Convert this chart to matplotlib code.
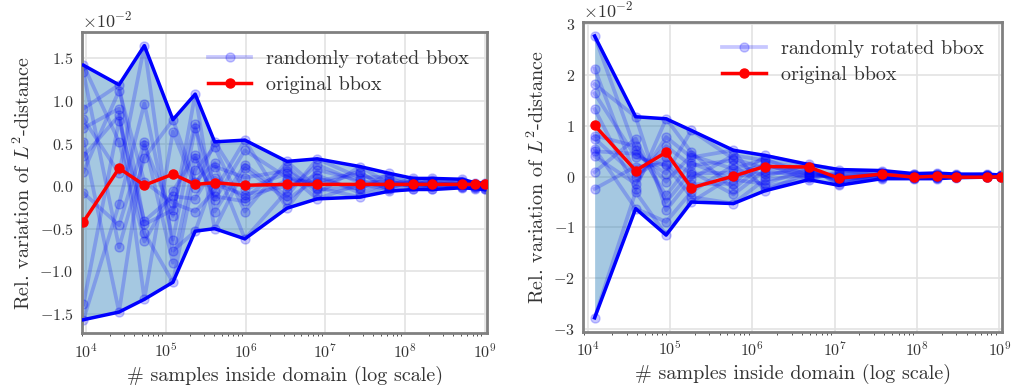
"""
Relative variation of the L2-distance vs. number of samples inside the domain
"""

import numpy as np
import matplotlib
matplotlib.use("Agg")
import matplotlib.pyplot as plt

plt.rcParams["font.family"] = "serif"
plt.rcParams["font.serif"] = ["cmr10"]
plt.rcParams["mathtext.fontset"] = "cm"
plt.rcParams["axes.formatter.use_mathtext"] = True
plt.rcParams["axes.unicode_minus"] = False
plt.rcParams["text.color"] = "0.2"
plt.rcParams["axes.labelcolor"] = "0.2"
plt.rcParams["xtick.color"] = "0.2"
plt.rcParams["ytick.color"] = "0.2"

# ---- left panel data (values in units of 1e-2) ----
x_left = [9.3e3, 2.6e4, 5.4e4, 1.23e5, 2.34e5, 4.1e5, 9.8e5, 3.3e6,
          7.9e6, 2.7e7, 6.3e7, 1.26e8, 2.2e8, 5.2e8, 7.4e8, 1.0e9]

orig_left = [-0.42, 0.21, 0.01, 0.14, 0.02, 0.04, 0.01, 0.02,
             0.02, 0.02, 0.02, 0.02, 0.02, 0.02, 0.02, 0.02]

rot_left = [
    [1.42, 0.52, -0.65, -0.06, 0.36, -0.16, 0.42, 0.10, 0.02, 0.15, -0.01, 0.04, 0.02, 0.08, -0.02, 0.01],
    [1.34, -0.72, 0.33, 0.78, 0.05, 0.27, -0.62, -0.06, 0.25, 0.04, 0.06, -0.01, 0.09, 0.01, 0.025, -0.04],
    [0.91, 1.19, -0.45, -0.28, 0.73, -0.50, 0.21, -0.16, 0.09, -0.04, 0.15, 0.01, 0.05, -0.01, 0.01, 0.03],
    [0.79, 0.15, 1.65, -0.76, -0.53, 0.10, -0.14, 0.23, -0.09, 0.23, 0.03, 0.05, -0.04, 0.04, -0.005, 0.0],
    [0.68, 0.91, -1.33, 0.64, -0.02, 0.52, -0.04, 0.15, -0.15, 0.02, -0.04, 0.03, 0.0, 0.06, 0.04, -0.02],
    [0.52, -1.48, 0.48, -0.35, 1.08, -0.30, 0.25, -0.12, 0.32, 0.10, 0.11, -0.04, 0.03, -0.005, 0.0, 0.005],
    [0.35, 0.83, -0.55, -1.13, 0.19, 0.46, -0.30, 0.29, -0.02, -0.13, 0.01, 0.09, -0.03, 0.02, 0.02, 0.02],
    [0.17, 1.12, 0.05, -0.20, -0.30, -0.06, 0.54, -0.26, 0.19, 0.07, -0.03, 0.07, 0.04, -0.02, -0.01, 0.035],
    [-0.08, -0.46, 0.52, -0.90, 0.33, -0.12, -0.18, 0.07, 0.05, 0.17, -0.06, -0.03, 0.01, 0.05, 0.015, -0.03],
    [-1.39, 0.77, -0.41, -0.12, -0.15, 0.23, 0.10, 0.18, -0.04, -0.02, 0.08, 0.02, 0.07, 0.0, -0.03, -0.01],
    [-1.57, -0.21, 0.97, -0.63, 0.68, 0.02, -0.10, 0.00, 0.13, -0.08, 0.04, 0.0, -0.01, 0.03, 0.03, 0.015],
]

# ---- right panel data (values in units of 1e-2) ----
x_right = [1.22e4, 3.84e4, 9.0e4, 1.82e5, 5.9e5, 1.41e6, 4.84e6,
           1.12e7, 3.75e7, 9.1e7, 1.74e8, 2.99e8, 7.0e8, 1.05e9]

orig_right = [1.01, 0.12, 0.48, -0.22, 0.01, 0.20, 0.19,
              -0.03, 0.05, -0.01, 0.01, -0.01, -0.01, 0.0]

rot_right = [
    [2.77, 0.52, -0.10, 0.42, 0.15, 0.35, 0.02, 0.02, 0.03, -0.03, -0.01, 0.03, -0.005, 0.01],
    [2.13, 0.0, 0.60, 0.22, 0.32, 0.0, 0.24, 0.14, 0.01, 0.02, 0.02, 0.035, 0.035, 0.002],
    [1.82, 1.18, -0.66, -0.04, 0.42, 0.32, 0.13, -0.08, -0.01, -0.025, 0.05, 0.04, 0.01, -0.01],
    [1.64, 0.39, 0.22, -0.40, -0.53, -0.06, 0.04, 0.0, -0.04, 0.03, -0.04, 0.05, -0.01, 0.02],
    [1.33, -0.24, 1.14, 0.48, -0.24, 0.26, -0.06, 0.10, 0.10, -0.02, -0.01, -0.02, 0.025, 0.012],
    [0.81, 0.60, -0.37, 0.27, -0.06, -0.14, 0.15, -0.11, 0.07, 0.04, 0.01, -0.015, 0.0, 0.005],
    [0.75, 0.03, 0.38, 0.06, 0.08, 0.22, 0.06, -0.02, 0.04, -0.01, 0.04, -0.01, 0.04, -0.005],
    [0.55, -0.63, -0.89, -0.30, 0.22, -0.20, -0.03, 0.07, 0.02, 0.05, 0.07, -0.005, 0.015, 0.025],
    [0.50, 0.45, 0.06, 0.91, 0.35, 0.17, 0.18, -0.14, 0.0, 0.0, -0.025, 0.0, -0.008, 0.015],
    [0.40, -0.14, 0.78, 0.38, 0.52, -0.28, 0.08, -0.04, -0.03, 0.06, 0.0, 0.005, 0.03, 0.008],
    [0.09, 0.75, -0.50, 0.10, -0.35, 0.12, 0.0, 0.04, 0.12, 0.01, 0.03, 0.01, 0.005, 0.0],
    [-0.24, 0.20, 0.25, -0.15, -0.14, 0.42, 0.21, -0.17, 0.08, -0.04, 0.06, 0.015, 0.05, 0.03],
    [-2.78, -0.30, -1.15, -0.50, 0.02, 0.06, 0.10, -0.06, 0.05, 0.015, -0.03, 0.02, 0.02, 0.018],
]

xlim = (8.9e3, 1.07e9)


def draw_panel(ax, x, rotated, original):
    x = np.array(x)
    rotated = np.array(rotated) * 1e-2
    original = np.array(original) * 1e-2
    upper = rotated.max(axis=0)
    lower = rotated.min(axis=0)

    ax.fill_between(x, lower, upper, color="#1f77b4", alpha=0.4, lw=0, zorder=1)
    for i, r in enumerate(rotated):
        ax.plot(x, r, "o-", color="b", alpha=0.22, lw=2.7, ms=6.5,
                label="randomly rotated bbox" if i == 0 else None, zorder=2)
    ax.plot(x, upper, "-", color="b", lw=2.5, zorder=3)
    ax.plot(x, lower, "-", color="b", lw=2.5, zorder=3)
    ax.plot(x, original, "o-", color="r", lw=2.5, ms=6.5, label="original bbox", zorder=4)

    ax.set_xscale("log")
    ax.set_xlim(*xlim)
    ax.ticklabel_format(axis="y", style="sci", scilimits=(0, 0))
    ax.yaxis.get_offset_text().set_fontsize(13)
    ax.grid(True, color="#e3e3e3", lw=1.2)
    ax.set_axisbelow(True)
    for s in ax.spines.values():
        s.set_color("#808080")
        s.set_linewidth(2)
    ax.tick_params(length=0, labelsize=11.5, pad=6)
    ax.set_xlabel("# samples inside domain (log scale)", fontsize=14.5)
    ax.set_ylabel("Rel. variation of $L^2$-distance", fontsize=14.5)
    ax.legend(loc="upper right", frameon=False, fontsize=14.5, handlelength=2.15,
              handletextpad=0.75, labelspacing=0.4)


fig = plt.figure(figsize=(10.11, 3.85), dpi=100)
ax1 = fig.add_axes([0.081, 0.134, 0.401, 0.783])
ax2 = fig.add_axes([0.577, 0.138, 0.414, 0.805])

draw_panel(ax1, x_left, rot_left, orig_left)
draw_panel(ax2, x_right, rot_right, orig_right)

fig.savefig("out.png", dpi=100)
